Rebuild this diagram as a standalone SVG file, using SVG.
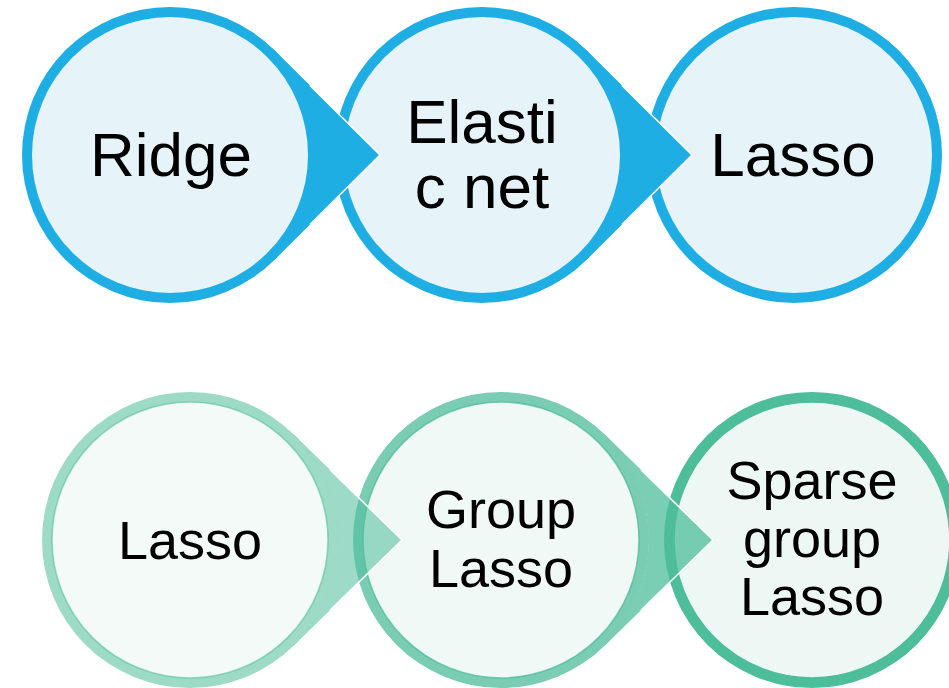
<svg xmlns="http://www.w3.org/2000/svg" width="949" height="688" viewBox="0 0 949 688">
  <style>
    .label { font-family: "Liberation Sans", Arial, sans-serif; fill: #000; text-anchor: middle; }
    .big { font-size: 62px; }
    .small { font-size: 54px; }
    .ring-blue { fill: #1FAEE3; }
    .core-blue { fill: #E6F4FA; }
    .edge { fill: none; stroke: #FFFFFF; stroke-width: 1.6; stroke-linejoin: miter; }
    .green { fill: #4DBD9A; }
    .core-green { stroke: #4DBD9A; stroke-width: 1.6; }
  </style>

  <!-- Upper chain: Ridge -> Elastic net -> Lasso -->
  <g id="node-ridge">
    <circle cx="170" cy="155" r="148" class="ring-blue"/>
    <circle cx="170" cy="155" r="138" class="core-blue"/>
    <text class="label big" x="171" y="176">Ridge</text>
  </g>
  <g id="node-elastic-net">
    <circle cx="482" cy="155" r="148" class="ring-blue"/>
    <circle cx="482" cy="155" r="138" class="core-blue"/>
    <text class="label big" x="482" y="143">Elasti</text>
    <text class="label big" x="482" y="208">c net</text>
  </g>
  <g id="node-lasso-top">
    <circle cx="794" cy="155" r="148" class="ring-blue"/>
    <circle cx="794" cy="155" r="138" class="core-blue"/>
    <text class="label big" x="793" y="176">Lasso</text>
  </g>

  <!-- Lower chain: Lasso -> Group Lasso -> Sparse group Lasso -->
  <g id="node-lasso-bottom">
    <circle cx="190" cy="540" r="148" fill="#9DDBC7"/>
    <circle cx="190" cy="540" r="138" class="core-green" fill="#F3FAF8" stroke-opacity="0.55"/>
    <text class="label small" x="190" y="559">Lasso</text>
  </g>
  <g id="node-group-lasso">
    <circle cx="501" cy="540" r="148" fill="#7ACDB3"/>
    <circle cx="501" cy="540" r="138" class="core-green" fill="#F0F9F6" stroke-opacity="0.75"/>
    <text class="label small" x="501" y="528">Group</text>
    <text class="label small" x="501" y="587">Lasso</text>
  </g>
  <g id="node-sparse-group-lasso">
    <circle cx="812" cy="540" r="148" class="green"/>
    <circle cx="812" cy="540" r="138" class="core-green" fill="#EDF7F3" stroke="#45B892"/>
    <text class="label small" x="812" y="499">Sparse</text>
    <text class="label small" x="812" y="557">group</text>
    <text class="label small" x="812" y="615">Lasso</text>
  </g>

  <!-- Pointed connectors: the tip region outside each source circle, with a white edge -->
  <g id="connectors">
    <path d="M274.3,50 L380,155 L274.3,260 L269.4,255 A141,141 0 0 0 269.4,55 Z" class="ring-blue"/>
    <path d="M310,85.5 L380,155 L310,224.5" class="edge"/>
    <path d="M586.3,50 L692,155 L586.3,260 L581.4,255 A141,141 0 0 0 581.4,55 Z" class="ring-blue"/>
    <path d="M622,85.5 L692,155 L622,224.5" class="edge"/>

    <path d="M293.3,434 L402,540 L293.3,646 L293.18,645.86 A147.8,147.8 0 0 0 293.18,434.14 Z" class="green" fill-opacity="0.55"/>
    <path d="M330,469.8 L402,540 L330,610.2" class="edge"/>
    <path d="M604.3,434 L713,540 L604.3,646 L604.18,645.86 A147.8,147.8 0 0 0 604.18,434.14 Z" class="green" fill-opacity="0.75"/>
    <path d="M641,469.8 L713,540 L641,610.2" class="edge"/>
  </g>
</svg>
